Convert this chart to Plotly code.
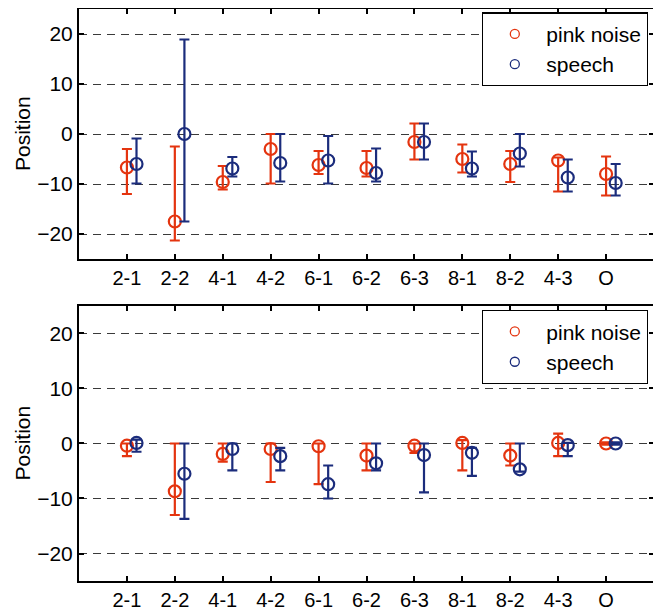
import plotly.graph_objects as go

categories = ["2-1", "2-2", "4-1", "4-2", "6-1", "6-2", "6-3", "8-1", "8-2", "4-3", "O"]

# Top panel
top_pink_mean = [-6.7, -17.5, -9.6, -3.0, -6.2, -6.8, -1.6, -5.0, -6.0, -5.3, -8.0]
top_pink_hi   = [-3.0, -2.5, -6.4, 0.0, -3.4, -3.4, 2.1, -2.1, -3.4, -4.7, -4.5]
top_pink_lo   = [-12.0, -21.3, -11.1, -9.9, -8.0, -8.5, -5.1, -7.7, -9.6, -11.5, -12.3]
top_sp_mean   = [-6.0, 0.0, -6.9, -5.8, -5.3, -7.8, -1.6, -6.9, -3.9, -8.7, -9.8]
top_sp_hi     = [-0.9, 18.9, -4.6, 0.0, -0.4, -2.9, 2.1, -3.5, 0.0, -5.1, -6.0]
top_sp_lo     = [-9.9, -17.5, -8.5, -9.5, -9.9, -9.5, -5.1, -8.5, -6.5, -11.5, -12.3]

# Bottom panel
bot_pink_mean = [-0.4, -8.7, -1.9, -1.0, -0.5, -2.2, -0.4, 0.1, -2.2, 0.1, 0.0]
bot_pink_hi   = [0.0, 0.0, 0.0, 0.0, 0.0, 0.0, 0.0, 0.6, 0.0, 1.8, 0.2]
bot_pink_lo   = [-2.3, -13.0, -3.3, -7.0, -7.4, -4.9, -1.7, -4.9, -4.0, -2.3, -0.2]
bot_sp_mean   = [0.1, -5.5, -1.0, -2.3, -7.4, -3.6, -2.1, -1.7, -4.7, -0.3, 0.0]
bot_sp_hi     = [0.7, 0.0, 0.0, -0.8, -4.0, 0.0, 0.0, -0.8, 0.0, 0.1, 0.2]
bot_sp_lo     = [-1.5, -13.7, -4.9, -4.9, -10.0, -4.9, -8.9, -5.9, -5.1, -2.3, -0.2]

y_ticks = [-20, -10, 0, 10, 20]
series_names = ["pink noise", "speech"]
y_title = "Position"

RED = "#E4340F"
BLUE = "#1B2C7C"
offset = 0.2
FAMILY = "Liberation Sans, Arial, sans-serif"

fig = go.Figure()

def add_series(mean, hi, lo, color, xaxis, yaxis, shift):
    xs = [i + 1 + shift for i in range(len(mean))]
    fig.add_trace(go.Scatter(
        x=xs, y=mean, mode="markers", showlegend=False,
        xaxis=xaxis, yaxis=yaxis,
        marker=dict(symbol="circle-open", size=12, color=color, line=dict(width=2.2, color=color)),
        error_y=dict(type="data", symmetric=False,
                     array=[h - m for h, m in zip(hi, mean)],
                     arrayminus=[m - l for m, l in zip(mean, lo)],
                     color=color, thickness=2.2, width=5),
    ))

add_series(top_pink_mean, top_pink_hi, top_pink_lo, RED, "x", "y", 0)
add_series(top_sp_mean, top_sp_hi, top_sp_lo, BLUE, "x", "y", offset)
add_series(bot_pink_mean, bot_pink_hi, bot_pink_lo, RED, "x2", "y2", 0)
add_series(bot_sp_mean, bot_sp_hi, bot_sp_lo, BLUE, "x2", "y2", offset)

# legend-only entries
for leg, xa, ya in [("legend", "x", "y"), ("legend2", "x2", "y2")]:
    for name, col in zip(series_names, [RED, BLUE]):
        fig.add_trace(go.Scatter(
            x=[None], y=[None], mode="markers", name=name, legend=leg,
            xaxis=xa, yaxis=ya,
            marker=dict(symbol="circle-open", size=9, color=col, line=dict(width=1.3, color=col)),
        ))

font = dict(family=FAMILY, size=21, color="black")
xfont = dict(family=FAMILY, size=20, color="black")

xcommon = dict(
    range=[0, 12], tickmode="array", tickvals=list(range(1, len(categories) + 1)),
    ticktext=categories, ticks="inside", ticklen=5, tickwidth=1.5, tickcolor="black",
    showline=True, linecolor="black", linewidth=2, mirror="ticks",
    showgrid=False, zeroline=False, tickfont=xfont, automargin=False,
)
ycommon = dict(
    range=[-25, 25], tickmode="array", tickvals=y_ticks,
    ticks="inside", ticklen=5, tickwidth=1.5, tickcolor="black",
    showline=True, linecolor="black", linewidth=2, mirror="ticks",
    showgrid=True, gridcolor="#3a3a3a", gridwidth=1, griddash="8px,6px",
    zeroline=False, tickfont=font, automargin=False,
)

legcommon = dict(
    bgcolor="white", bordercolor="black", borderwidth=1.3,
    font=dict(family=FAMILY, size=21, color="black"),
    xanchor="right", yanchor="top", itemsizing="trace", tracegroupgap=0,
    itemwidth=53,
)

# The page is drawn with an 8px body margin, so the margins compensate for it.
fig.update_layout(
    width=661, height=610,
    margin=dict(l=71, r=15, t=1, b=37, autoexpand=False),
    plot_bgcolor="white", paper_bgcolor="white",
    xaxis=dict(domain=[0, 1], anchor="y", **xcommon),
    yaxis=dict(domain=[0.5629, 1.0], anchor="x", **ycommon),
    xaxis2=dict(domain=[0, 1], anchor="y2", **xcommon),
    yaxis2=dict(domain=[0.0, 0.4808], anchor="x2", **ycommon),
    legend=dict(x=0.9896, y=0.994, **legcommon),
    legend2=dict(x=0.9896, y=0.4738, **legcommon),
    showlegend=True,
)

for ymid in [(0.5629 + 1.0) / 2, 0.4808 / 2]:
    fig.add_annotation(
        text=y_title, xref="paper", yref="paper", x=-0.0991, y=ymid,
        xanchor="center", yanchor="middle", textangle=-90, showarrow=False,
        font=dict(family=FAMILY, size=21, color="black"),
    )

fig.write_html("out.html")
